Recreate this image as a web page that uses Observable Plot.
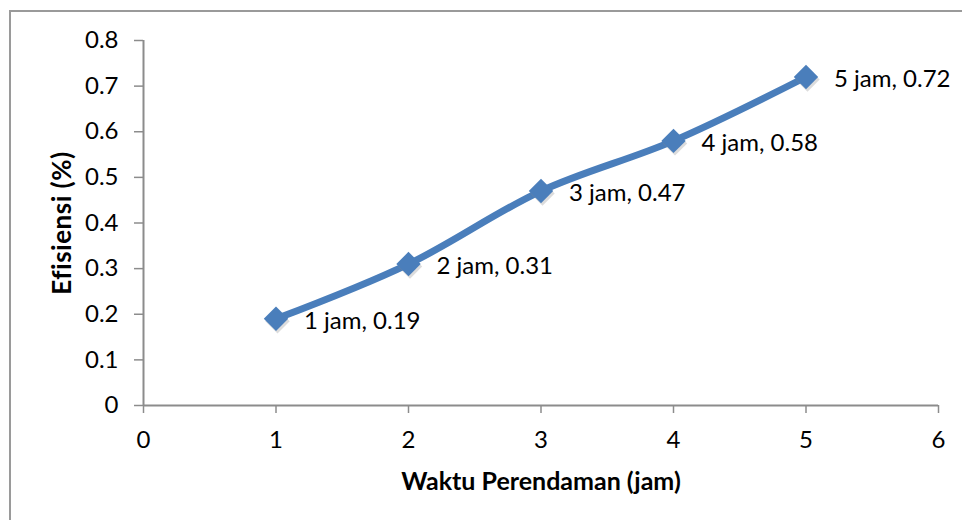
<!DOCTYPE html>
<html>
<head>
<meta charset="utf-8">
<script src="https://cdn.jsdelivr.net/npm/d3@7"></script>
<script src="https://cdn.jsdelivr.net/npm/@observablehq/plot@0.6"></script>
<style>
  html, body { margin: 0; padding: 0; background: #fff; }
  #wrap { position: relative; width: 962px; height: 520px; overflow: hidden; }
  #border { position: absolute; left: 9px; top: 10px; width: 1000px; height: 600px;
            border-left: 2px solid #9a9a9a; border-top: 2px solid #9a9a9a; pointer-events: none; }
  svg text { font-variant-ligatures: none; }
  .ytitle text { letter-spacing: 0.5px; }
</style>
</head>
<body>
<div id="wrap"><div id="border"></div></div>
<script>
const hours = [1, 2, 3, 4, 5];
const efficiency = [0.19, 0.31, 0.47, 0.58, 0.72];
const labels = ["1 jam, 0.19", "2 jam, 0.31", "3 jam, 0.47", "4 jam, 0.58", "5 jam, 0.72"];
const xTicks = [0, 1, 2, 3, 4, 5, 6];
const yTicks = [0, 0.1, 0.2, 0.3, 0.4, 0.5, 0.6, 0.7, 0.8];
const xTitle = "Waktu Perendaman (jam)";
const yTitle = "Efisiensi (%)";

const data = hours.map((h, i) => ({x: h, y: efficiency[i], label: labels[i]}));
const blue = "#4a7ebb";
const axisGray = "#8c8c8c";
const font = "Lato, 'Open Sans', sans-serif";

const chart = Plot.plot({
  width: 962,
  height: 520,
  marginLeft: 143,
  marginRight: 24,
  marginTop: 40,
  marginBottom: 115,
  style: {fontFamily: font, fontSize: "24px", color: "#000", background: "transparent"},
  x: {domain: [0, 6], ticks: xTicks, label: null},
  y: {domain: [0, 0.8], ticks: yTicks, label: null},
  marks: [
    Plot.axisX({ticks: xTicks, tickSize: 8, tickPadding: 17, stroke: axisGray, strokeWidth: 1.5,
                tickFormat: d => String(d), fontSize: 24, label: null}),
    Plot.axisY({ticks: yTicks, tickSize: 9, tickPadding: 16, stroke: axisGray, strokeWidth: 1.5,
                tickFormat: d => String(+d.toFixed(1)), fontSize: 24, label: null}),
    Plot.ruleX([0], {stroke: axisGray, strokeWidth: 2}),
    Plot.ruleY([0], {stroke: axisGray, strokeWidth: 2}),
    Plot.line(data, {x: "x", y: "y", stroke: blue, strokeWidth: 7, curve: "catmull-rom"}),
    Plot.dot(data, {x: "x", y: "y", symbol: "diamond2", r: 11, fill: "#8a8a8a", fillOpacity: 0.3, dx: 1.5, dy: 2.5}),
    Plot.dot(data, {x: "x", y: "y", symbol: "diamond2", r: 11, fill: blue}),
    Plot.text(data, {x: "x", y: "y", text: "label", textAnchor: "start", dx: 28, dy: 2, fontSize: 24, fill: "#000"}),
    Plot.text([xTitle], {frameAnchor: "bottom", lineAnchor: "middle", dy: 76, fontWeight: "bold", fontSize: 25, fill: "#000"}),
    Plot.text([yTitle], {frameAnchor: "left", textAnchor: "middle", lineAnchor: "middle", dx: -81, rotate: -90,
                         fontWeight: "bold", fontSize: 26, fill: "#000", className: "ytitle"})
  ]
});
const wrap = document.getElementById("wrap");
chart.style.position = "absolute";
chart.style.left = "0";
chart.style.top = "0";
wrap.insertBefore(chart, wrap.firstChild);
</script>
</body>
</html>
